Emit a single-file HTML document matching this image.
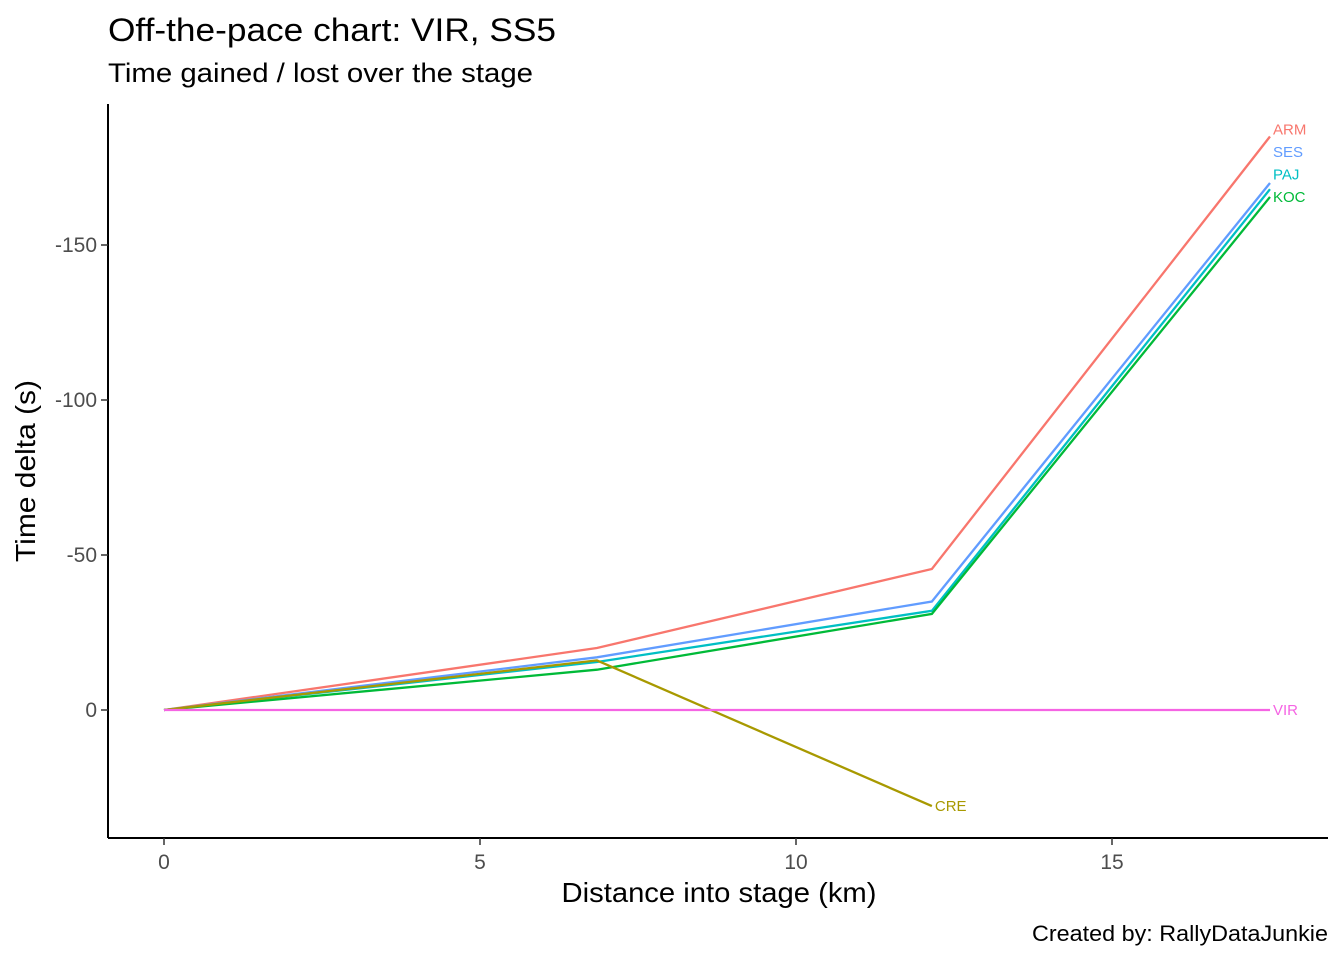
<!DOCTYPE html>
<html><head><meta charset="utf-8"><style>
body{margin:0;background:#fff;font-family:"Liberation Sans",Arial,sans-serif}
svg text{font-family:"Liberation Sans",Arial,sans-serif}
</style></head><body>
<svg id="chart" width="1344" height="960">
<rect width="1344" height="960" fill="#fff"/>
<text x="108" y="41" font-size="32" textLength="448" lengthAdjust="spacingAndGlyphs" fill="#000">Off-the-pace chart: VIR, SS5</text>
<text x="108" y="82" font-size="27" textLength="425" lengthAdjust="spacingAndGlyphs" fill="#000">Time gained / lost over the stage</text>
<g id="plot"></g>
<line x1="108" y1="104" x2="108" y2="838" stroke="#000" stroke-width="2"/>
<line x1="108" y1="838" x2="1328" y2="838" stroke="#000" stroke-width="2"/>
<g id="axes"></g>
<text x="719" y="902" font-size="28" textLength="315" lengthAdjust="spacingAndGlyphs" text-anchor="middle">Distance into stage (km)</text>
<text transform="translate(35,471) rotate(-90)" font-size="28" textLength="182" lengthAdjust="spacingAndGlyphs" text-anchor="middle">Time delta (s)</text>
<text x="1328" y="941" font-size="22" textLength="296" lengthAdjust="spacingAndGlyphs" text-anchor="end">Created by: RallyDataJunkie</text>
</svg>
<script>
const distances=[0,6.85,12.15,17.5];
const drivers=["ARM","SES","PAJ","KOC","CRE","VIR"];
const colors=["#F8766D","#619CFF","#00BFC4","#00BA38","#A89900","#F564E3"];
const ARM=[0,-20,-45.5,-185];
const SES=[0,-17,-35,-170];
const PAJ=[0,-15.5,-32,-168];
const KOC=[0,-13,-31,-165.5];
const CRE=[0,-16,31];
const VIR=[0,0,0,0];
const series=[ARM,SES,PAJ,KOC,CRE,VIR];
const xTicks=[0,5,10,15];
const yTicks=[-150,-100,-50,0];
const ns="http://www.w3.org/2000/svg";
function xs(v){return 164+v*63.2;}
function ys(v){return 710+v*3.1;}
const plot=document.getElementById('plot'),axes=document.getElementById('axes');
xTicks.forEach(t=>{
 const l=document.createElementNS(ns,'line');
 l.setAttribute('x1',xs(t));l.setAttribute('x2',xs(t));l.setAttribute('y1',838);l.setAttribute('y2',845);l.setAttribute('stroke','#333');l.setAttribute('stroke-width',1.5);
 
 
 axes.appendChild(l);
 const tx=document.createElementNS(ns,'text');
 tx.setAttribute('x',xs(t));tx.setAttribute('y',869);tx.setAttribute('font-size',21);tx.setAttribute('fill','#4d4d4d');tx.setAttribute('text-anchor','middle');tx.textContent=t;
 
 
 axes.appendChild(tx);
});
yTicks.forEach(t=>{
 const l=document.createElementNS(ns,'line');
 l.setAttribute('x1',101);l.setAttribute('x2',108);l.setAttribute('y1',ys(t));l.setAttribute('y2',ys(t));l.setAttribute('stroke','#333');l.setAttribute('stroke-width',1.5);
 
 
 axes.appendChild(l);
 const tx=document.createElementNS(ns,'text');
 tx.setAttribute('x',97);tx.setAttribute('y',ys(t)+7);tx.setAttribute('font-size',21);tx.setAttribute('fill','#4d4d4d');tx.setAttribute('text-anchor','end');tx.textContent=t;
 
 
 axes.appendChild(tx);
});
const labels=[];
series.forEach((s,i)=>{
 const p=document.createElementNS(ns,'polyline');
 p.setAttribute('points',s.map((v,j)=>xs(distances[j])+','+ys(v)).join(' '));
 p.setAttribute('fill','none');p.setAttribute('stroke',colors[i]);p.setAttribute('stroke-width',2.3);
 
 
 plot.appendChild(p);
 const last=s.length-1;
 labels.push({i:i,x:xs(distances[last]),y:ys(s[last])});
});
// repel end labels upward from the bottom of the cluster
const group=labels.filter(l=>l.x>1200).sort((a,b)=>b.y-a.y);
group.forEach((l,k)=>{if(k>0&&group[k-1].y-l.y<22.5){l.y=group[k-1].y-22.5;}});
labels.forEach(l=>{
 const tx=document.createElementNS(ns,'text');
 tx.setAttribute('x',l.x+3);tx.setAttribute('y',l.y+5);tx.setAttribute('font-size',15);tx.setAttribute('fill',colors[l.i]);tx.textContent=drivers[l.i];
 
 
 plot.appendChild(tx);
});
</script>
</body></html>
